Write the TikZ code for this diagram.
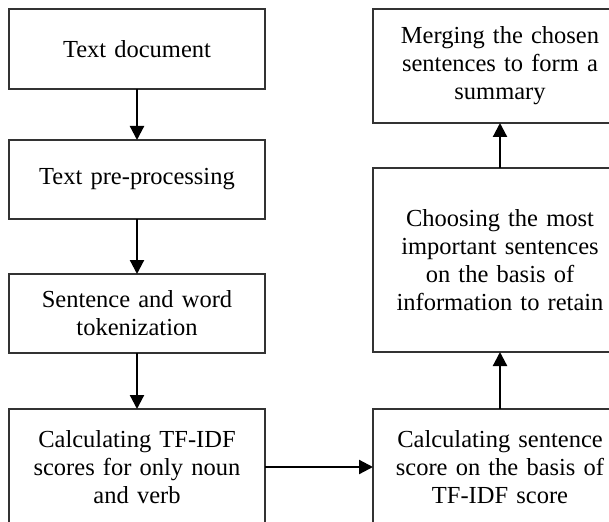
\documentclass[tikz,border=0pt]{standalone}
\usepackage{fontspec}
\setmainfont{Liberation Serif}
\usetikzlibrary{arrows.meta}
\begin{document}
\begin{tikzpicture}[x=1pt,y=-1pt,
  box/.style={draw=black!80,line width=1.5pt,fill=white,outer sep=0pt,inner sep=0pt,
    minimum width=256pt,text width=250pt,align=center,text=black,
    font=\fontsize{24.5}{28}\selectfont},
  arr/.style={line width=2.2pt,-{Triangle[length=14pt,width=14pt]}}]
\useasboundingbox (0,0) rectangle (609,521);
\clip (0,0) rectangle (609,521);
\fill[white] (0,0) rectangle (609,521);
\node[box,minimum height=80pt] (t1) at (137,49) {Text document};
\node[box,minimum height=79pt] (t2) at (137,179.5) {Text pre-processing};
\node[box,minimum height=79pt] (t3) at (137,313.5) {Sentence and word\\tokenization};
\node[box,minimum height=116pt] (t4) at (137,467) {Calculating TF-IDF\\scores for only noun\\and verb};
\node[box,minimum width=254pt,minimum height=114pt] (r1) at (500,66) {Merging the chosen\\sentences to form a\\summary};
\node[box,minimum width=254pt,minimum height=184pt] (r2) at (500,260) {Choosing the most\\important sentences\\on the basis of\\information to retain};
\node[box,minimum width=254pt,minimum height=116pt] (r3) at (500,467) {Calculating sentence\\score on the basis of\\TF-IDF score};
\draw[arr] (t1.south) -- (t2.north);
\draw[arr] (t2.south) -- (t3.north);
\draw[arr] (t3.south) -- (t4.north);
\draw[arr] (t4.east) -- (r3.west);
\draw[arr] (r3.north) -- (r2.south);
\draw[arr] (r2.north) -- (r1.south);
\end{tikzpicture}
\end{document}
